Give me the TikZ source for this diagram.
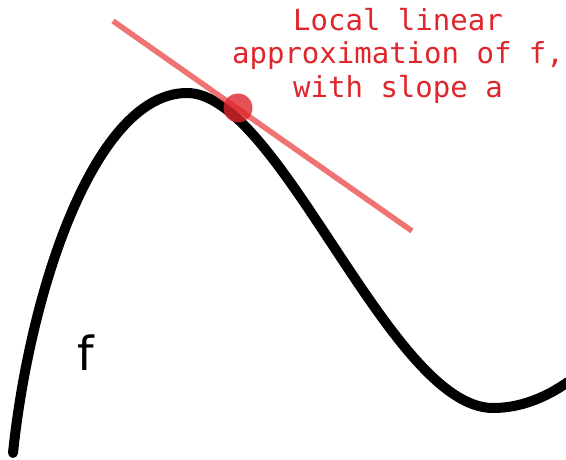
\documentclass[tikz,border=0pt]{standalone}
\usepackage{fontspec}
\newfontfamily\monofont{DejaVu Sans Mono}
\newfontfamily\labelfont{DejaVu Sans}
\definecolor{annred}{RGB}{222,38,44}
\definecolor{tanred}{RGB}{236,80,80}
\tikzset{
  curvestyle/.style={line width=10pt, black, line cap=round},
  tangentstyle/.style={line width=5.5pt, tanred, opacity=0.8},
  pointstyle/.style={circle, fill=annred, opacity=0.8, minimum size=29pt, inner sep=0pt},
  annstyle/.style={annred, font={\monofont\fontsize{29}{33.5}\selectfont}, align=center, inner sep=0pt},
  flabel/.style={font={\labelfont\fontsize{47}{50}\selectfont}, inner sep=0pt}
}
\begin{document}
\begin{tikzpicture}[x=1pt,y=-1pt]
\useasboundingbox (0,0) rectangle (566,460);
\fill[white] (0,0) rectangle (566,460);
\draw[curvestyle] (13,453) .. controls (30,290) and (95,93) .. (187,93)
  .. controls (280,93) and (390,408) .. (493,408)
  .. controls (520,408) and (545,398) .. (568,382);
\coordinate (tA) at (113,21);
\coordinate (tB) at (412,231);
\draw[tangentstyle] (tA) -- (tB);
\node[pointstyle] (pt) at (238,108) {};
\node[annstyle, anchor=north] (ann) at (398,8) {Local linear\\approximation of f,\\with slope a};
\node[flabel, anchor=base] (f) at (86,370) {f};
\end{tikzpicture}
\end{document}
